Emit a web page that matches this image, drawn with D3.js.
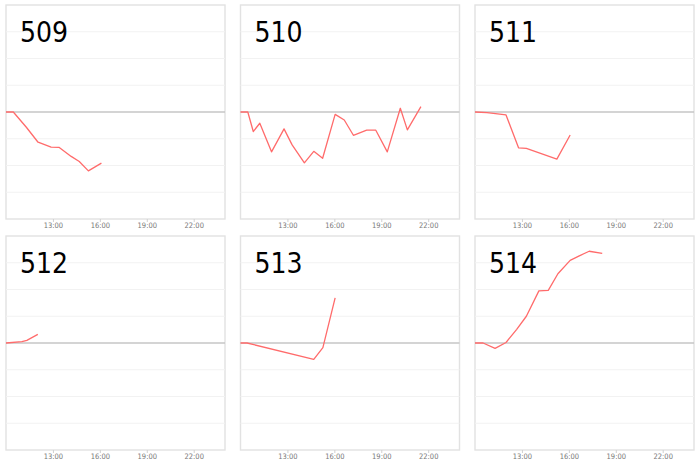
<!DOCTYPE html>
<html>
<head>
<meta charset="utf-8">
<script src="https://cdn.jsdelivr.net/npm/d3@7"></script>
<style>
	body { margin:0; background:#fff; }
	svg { display:block; }
</style>
</head>
<body>
<script>
// one small chart per id, all on the same time / value scale
var panelNames = ["509","510","511","512","513","514"];

var times509  = ["10:00","10:28","11:18","12:03","12:53","13:23","14:10","14:41","15:16","16:06"];
var values509 = [0, 0, -0.57, -1.13, -1.31, -1.32, -1.66, -1.85, -2.20, -1.91];

var times510  = ["10:00","10:28","10:49","11:14","11:59","12:47","13:18","14:05","14:41","15:15","16:03","16:38","17:13","18:04","18:39","19:23","20:13","20:40","21:32"];
var values510 = [0, 0, -0.73, -0.42, -1.49, -0.63, -1.23, -1.90, -1.47, -1.73, -0.09, -0.30, -0.87, -0.68, -0.68, -1.49, 0.14, -0.67, 0.20];

var times511  = ["10:00","10:46","11:59","12:47","13:17","15:14","16:05"];
var values511 = [0, -0.02, -0.11, -1.34, -1.36, -1.76, -0.86];

var times512  = ["10:00","11:01","11:20","12:02"];
var values512 = [0, 0.05, 0.10, 0.32];

var times513  = ["10:00","10:25","14:41","15:16","16:03"];
var values513 = [0, 0, -0.61, -0.17, 1.69];

var times514  = ["10:00","10:31","11:17","11:59","12:40","13:17","14:05","14:41","15:18","16:05","16:40","17:18","18:08"];
var values514 = [0, 0, -0.20, 0.02, 0.51, 1.00, 1.95, 1.97, 2.59, 3.09, 3.26, 3.43, 3.35];

var tickLabels = ["13:00","16:00","19:00","22:00"];
var valueGrid  = [-3,-2,-1,1,2,3];

var seriesTimes  = [times509, times510, times511, times512, times513, times514];
var seriesValues = [values509, values510, values511, values512, values513, values514];

var W = 700, H = 462;
var colX = [6, 240.5, 475];
var rowY = [5, 236];
var pw = 219, ph = 214;

var parseTime = d3.timeParse("%H:%M");
var startTime = parseTime("10:00");
var endTime = d3.timeHour.offset(startTime, 14);

var x = d3.scaleTime().domain([startTime, endTime]).range([0, pw]);
var y = d3.scaleLinear().domain([-4, 4]).range([ph, 0]);

var line = d3.line()
	.x(function(d){ return x(d.t); })
	.y(function(d){ return y(d.v); });

var svg = d3.select("body").append("svg")
	.attr("width", W)
	.attr("height", H);

var panels = svg.selectAll("g.panel").data(panelNames).enter().append("g").classed("panel",1)
	.attr("transform", function(d,i)
	{
		return "translate(" + colX[i % 3] + "," + rowY[Math.floor(i / 3)] + ")";
	});

panels.each(function(name,i)
{
	var g = d3.select(this);
	var pts = seriesTimes[i].map(function(t,j)
	{
		return {t: parseTime(t), v: seriesValues[i][j]};
	});

	g.append("rect")
		.attr("x",0)
		.attr("y",0)
		.attr("width",pw)
		.attr("height",ph)
		.attr("fill","#fff")
		.attr("stroke","#e2e2e2")
		.attr("stroke-width",1.4);

	g.selectAll("line.grid").data(valueGrid).enter().append("line").classed("grid",1)
		.attr("x1",0)
		.attr("x2",pw)
		.attr("y1",function(d){ return y(d); })
		.attr("y2",function(d){ return y(d); })
		.attr("stroke","#f2f2f2")
		.attr("stroke-width",1);

	g.append("line")
		.attr("x1",0)
		.attr("x2",pw)
		.attr("y1",y(0))
		.attr("y2",y(0))
		.attr("stroke","#c6c6c6")
		.attr("stroke-width",1.5);

	var axis = d3.axisBottom(x)
		.tickValues(tickLabels.map(function(s){ return parseTime(s); }))
		.tickFormat(d3.timeFormat("%H:%M"))
		.tickSize(3)
		.tickPadding(1);

	var ax = g.append("g")
		.attr("transform","translate(0," + ph + ")")
		.call(axis);
	ax.select(".domain").remove();
	ax.selectAll(".tick line").attr("stroke","#d0d0d0");
	ax.selectAll(".tick text")
		.attr("fill","#777")
		.attr("font-family","'DejaVu Sans Condensed', 'DejaVu Sans', sans-serif")
		.attr("font-size","7.5px");

	g.append("path")
		.datum(pts)
		.attr("d",line)
		.attr("fill","none")
		.attr("stroke","#ff6b6b")
		.attr("stroke-width",1.3)
		.attr("stroke-linejoin","round");

	g.append("text")
		.text(name)
		.attr("x",14)
		.attr("y",37)
		.attr("fill","#000")
		.attr("font-family","'DejaVu Sans Condensed', 'DejaVu Sans', sans-serif")
		.attr("font-size","28px");
});
</script>
</body>
</html>
